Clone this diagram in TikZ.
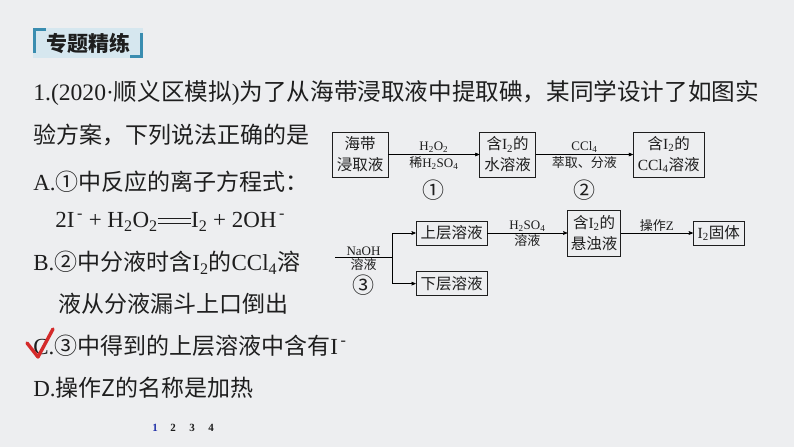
\documentclass[tikz,border=0pt]{standalone}
\usepackage{fontspec}
\setmainfont{Liberation Serif}
\newfontfamily\cjk{Noto Sans CJK SC}
\usetikzlibrary{arrows,positioning}

\definecolor{bgray}{HTML}{EDEEF0}
\definecolor{hdteal}{HTML}{3A8DB0}
\definecolor{hdfill}{HTML}{D6E7EF}
\definecolor{inkc}{HTML}{1E1E1E}
\definecolor{chkred}{HTML}{D42A2A}
\definecolor{pgblue}{HTML}{1F2FA8}

\newcommand{\zh}[1]{{\cjk #1}}
\newcommand{\lo}[1]{\textsubscript{#1}}
\newcommand{\eqbar}{\raisebox{0.16em}{\rlap{\rule{1.45em}{0.05em}}\raisebox{0.2em}{\rule{1.45em}{0.05em}}}}

\begin{document}
\begin{tikzpicture}[>=stealth',x=1pt,y=-1pt,semithick]
  \tikzstyle{qline}=[anchor=west,inner sep=0pt,text=inkc,font=\fontsize{23}{23}\selectfont]
  \tikzstyle{box}=[draw=inkc,text=inkc,align=center,inner xsep=3pt,inner ysep=2pt,font=\fontsize{15.5}{21}\selectfont]
  \tikzstyle{lab}=[text=inkc,inner sep=1.5pt,font=\fontsize{13}{14}\selectfont]
  \tikzstyle{circ}=[text=inkc,inner sep=0pt,font=\fontsize{22}{22}\selectfont\cjk]
  \tikzstyle{pg}=[inner sep=0pt,font=\fontsize{11}{11}\selectfont\bfseries]

  \fill[bgray] (0,0) rectangle (794,447);
  \useasboundingbox (0,0) rectangle (794,447);

  % heading
  \fill[hdfill] (33,28) rectangle (143,58);
  \draw[hdteal,line width=3pt] (46,29.5) -- (34.5,29.5) -- (34.5,53);
  \draw[hdteal,line width=3pt] (130,56.5) -- (141.5,56.5) -- (141.5,33);
  \node[text=inkc,inner sep=0pt,font=\fontsize{21}{21}\selectfont\cjk\bfseries] (hdr) at (88,43) {专题精练};

  % question
  \node[qline,font=\fontsize{23.6}{24}\selectfont] (q1) at (33,93) {1.(2020·\zh{顺义区模拟})\zh{为了从海带浸取液中提取碘，某同学设计了如图实}};
  \node[qline] (q2) at (33,135) {\zh{验方案，下列说法正确的是}};
  \node[qline] (qa) at (33,182) {A.\zh{①中反应的离子方程式：}};
  \node[qline] (qe) at (55,222) {2I\textsuperscript{\,-} + H\lo2O\lo2\eqbar I\lo2 + 2OH\textsuperscript{\,-}};
  \node[qline] (qb) at (33,263) {B.\zh{②中分液时含}I\lo2\zh{的}CCl\lo4\zh{溶}};
  \node[qline] (qb2) at (58,304) {\zh{液从分液漏斗上口倒出}};
  \node[qline] (qc) at (33,346) {C.\zh{③中得到的上层溶液中含有}I\textsuperscript{\,-}};
  \node[qline] (qd) at (33,388) {D.\zh{操作Z的名称是加热}};
  \draw[chkred,line width=3.4pt,line cap=round,line join=round] (27,343) -- (38,357) -- (53,329);

  % flow, first row
  \node[box,minimum width=56pt,minimum height=45pt] (sw) at (360,154.5) {\zh{海带}\\\zh{浸取液}};
  \node[box,minimum width=56pt,minimum height=45pt,right=91pt of sw] (aq) {\zh{含}I\lo2\zh{的}\\\zh{水溶液}};
  \node[box,minimum width=71pt,minimum height=45pt,right=97pt of aq] (org) {\zh{含}I\lo2\zh{的}\\CCl\lo4\zh{溶液}};
  \path[->] (sw) edge node[lab,above] (r1) {H\lo2O\lo2} node[lab,below] (r1b) {\zh{稀}H\lo2SO\lo4} (aq)
            (aq) edge node[lab,above] (r2) {CCl\lo4} node[lab,below] (r2b) {\zh{萃取、分液}} (org);
  \node[circ,below=9pt of r1b] (c1) {①};
  \node[circ,below=9pt of r2b] (c2) {②};

  % flow, second row
  \node[box,minimum width=71pt,minimum height=24pt] (up) at (451.5,233) {\zh{上层溶液}};
  \node[box,minimum width=71pt,minimum height=24pt,below=26pt of up] (low) {\zh{下层溶液}};
  \node[box,minimum width=53pt,minimum height=46pt,right=80pt of up] (sus) {\zh{含}I\lo2\zh{的}\\\zh{悬浊液}};
  \node[box,minimum width=51pt,minimum height=24pt,right=72pt of sus] (solid) {I\lo2\zh{固体}};
  \coordinate (in) at (335,257);
  \coordinate (fork) at (392,257);
  \draw (in) -- node[lab,above] (na) {NaOH} node[lab,below] (nb) {\zh{溶液}} (fork);
  \node[circ,below=2pt of nb] (c3) {③};
  \draw[->] (fork) |- (up);
  \draw[->] (fork) |- (low);
  \path[->] (up) edge node[lab,above] (r3) {H\lo2SO\lo4} node[lab,below] (r3b) {\zh{溶液}} (sus)
            (sus) edge node[lab,above] (r4) {\zh{操作}Z} (solid);

  % pages
  \node[pg,text=pgblue] (p1) at (155,428) {1};
  \node[pg,text=inkc] (p2) at (173,428) {2};
  \node[pg,text=inkc] (p3) at (192,428) {3};
  \node[pg,text=inkc] (p4) at (211,428) {4};
\end{tikzpicture}
\end{document}
